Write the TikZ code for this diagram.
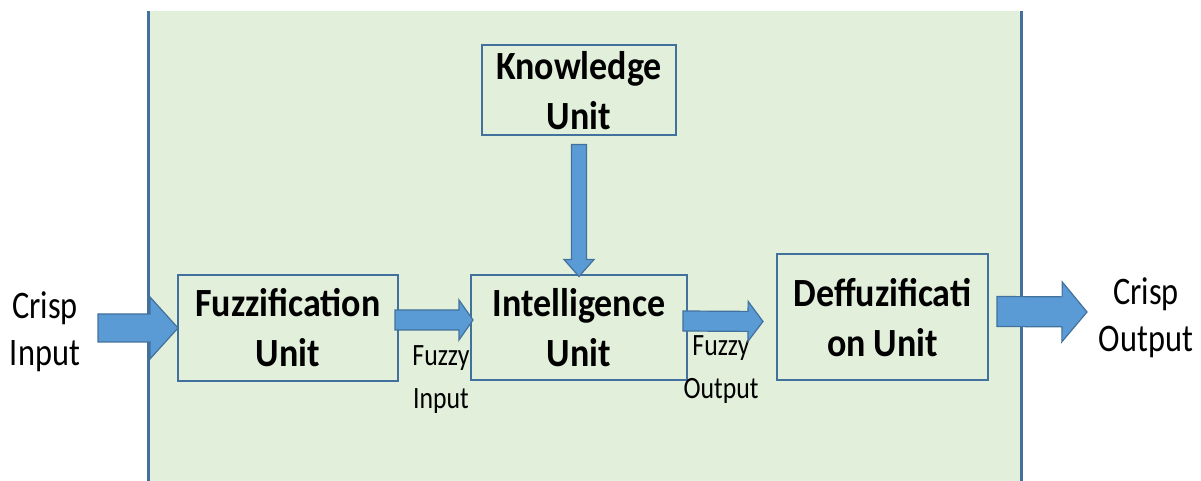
\documentclass[tikz,border=0pt]{standalone}
\usepackage{fontspec}
\setmainfont[FakeStretch=0.83, BoldFeatures={FakeStretch=0.9}]{Carlito}
\usetikzlibrary{calc, positioning}
\definecolor{panelgreen}{HTML}{E2EFDA}
\definecolor{unitblue}{HTML}{41719C}
\definecolor{arrowblue}{HTML}{5B9BD5}

% block arrow: start, end, shaft half width, head half width, head length
\newcommand{\fatarrow}[5]{%
  \coordinate (fa-h) at ($(#2)!#5!(#1)$);
  \filldraw[fat]
    ($(#1)!#3!90:(#2)$) -- ($(fa-h)!#3!-90:(#1)$) -- ($(fa-h)!#4!-90:(#1)$) -- (#2)
    -- ($(fa-h)!#4!90:(#1)$) -- ($(fa-h)!#3!90:(#1)$) -- ($(#1)!#3!-90:(#2)$) -- cycle;}

\begin{document}
\begin{tikzpicture}[
  x=1pt, y=1pt,
  unit/.style={rectangle, draw=unitblue, line width=2pt, inner sep=0pt, outer sep=0pt,
    align=center, font=\fontsize{40}{50}\selectfont\bfseries},
  lbl/.style={align=center, font=\fontsize{39}{47}\selectfont},
  sig/.style={align=center, font=\fontsize{31}{43}\selectfont},
  fat/.style={fill=arrowblue, draw=unitblue, line width=1.2pt, line join=miter},
]
  \useasboundingbox (0,0) rectangle (1201,481);

  % system panel
  \fill[panelgreen] (148,0) rectangle (1021,470);
  \draw[unitblue, line width=3pt] (148,0) -- (148,470) (1021,0) -- (1021,470);

  % units
  \node[unit, minimum width=220pt, minimum height=106pt] (fuzz) at (288,153) {Fuzzification\\Unit};
  \node[unit, minimum width=216pt, minimum height=105pt, right=73pt of fuzz] (intel) {Intelligence\\Unit};
  \node[unit, minimum width=211pt, minimum height=126pt, anchor=south west]
    (defuzz) at ([xshift=90pt]intel.south east) {Deffuzificati\\on Unit};
  \node[unit, minimum width=194pt, minimum height=90pt, above=140pt of intel] (know) {Knowledge\\Unit};

  % outside and signal labels
  \node[lbl] (crispin) at (45,149) {Crisp\\Input};
  \node[lbl] (crispout) at (1146,163) {Crisp\\Output};
  \node[sig] (fuzzin) at (441,101) {Fuzzy\\Input};
  \node[sig] (fuzzout) at (721,111) {Fuzzy\\Output};

  % arrow ends
  \coordinate (in-s) at (98,153);
  \coordinate (fi-s) at ([xshift=-3pt, yshift=8pt]fuzz.east);
  \coordinate (fi-e) at ([xshift=2pt, yshift=8pt]intel.west);
  \coordinate (fo-s) at ([xshift=-4pt, yshift=7pt]intel.east);
  \coordinate (fo-e) at ([xshift=-14pt, yshift=-4pt]defuzz.west);
  \coordinate (out-s) at ([xshift=9pt, yshift=6pt]defuzz.east);
  \coordinate (out-e) at (1087,169);
  \coordinate (kn-s) at ([yshift=-9pt]know.south);
  \coordinate (kn-e) at ([yshift=-1pt]intel.north);

  \fatarrow{in-s}{fuzz.west}{14pt}{31pt}{28pt}
  \fatarrow{fi-s}{fi-e}{10pt}{20pt}{14pt}
  \fatarrow{fo-s}{fo-e}{10pt}{20pt}{15pt}
  \fatarrow{out-s}{out-e}{15pt}{30pt}{25pt}
  \fatarrow{kn-s}{kn-e}{7.5pt}{15pt}{17pt}
\end{tikzpicture}
\end{document}
